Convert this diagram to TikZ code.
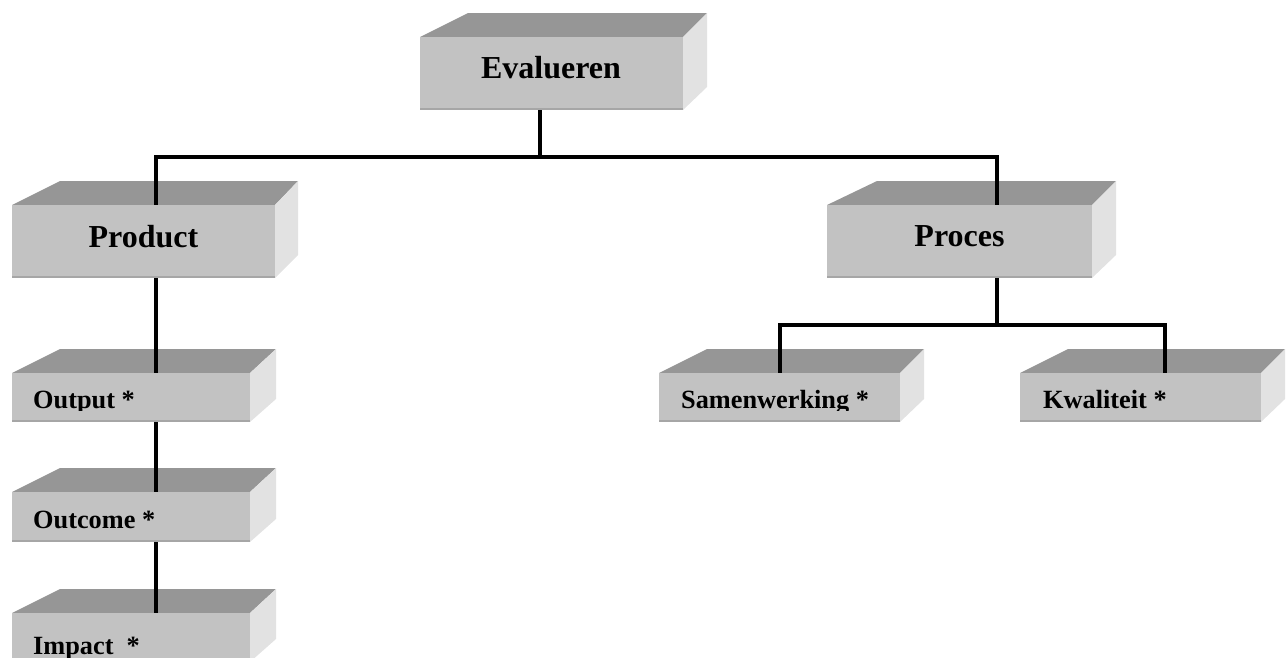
\documentclass[tikz,border=0pt]{standalone}
\usepackage{fontspec}
\setmainfont{Liberation Serif}
\usetikzlibrary{calc}
\definecolor{frontgray}{HTML}{C2C2C2}
\definecolor{topgray}{HTML}{969696}
\definecolor{sidegray}{HTML}{E2E2E2}
\definecolor{edgegray}{HTML}{A6A6A6}
\tikzset{
  frontface/.style={fill=frontgray, draw=none, inner sep=0pt, outer sep=0pt, rectangle},
  topface/.style={fill=topgray},
  sideface/.style={fill=sidegray},
  bottomedge/.style={draw=edgegray, line width=2pt},
  connector/.style={line width=3.8pt, black},
  biglabel/.style={font=\bfseries\fontsize{32}{36}\selectfont, inner sep=0pt, anchor=base},
  smalllabel/.style={font=\bfseries\fontsize{26.3}{30}\selectfont, inner sep=0pt, anchor=base west},
}
% #1 name, #2 front-left x, #3 front-right x, #4 front-top y, #5 front-bottom y, #6 back-left x, #7 back-right x
\newcommand\mybox[7]{%
  \fill[topface] (#2,#4) -- (#6,#4-24) -- (#7,#4-24) -- (#3,#4) -- cycle;
  \fill[sideface] (#3,#4) -- (#7,#4-24) -- (#7,#5-23) -- (#3,#5) -- cycle;
  \node[frontface, minimum width={#3-#2}, minimum height={#5-#4}] (#1) at ({(#2+#3)/2},{(#4+#5)/2}) {};
  \draw[bottomedge] (#2,#5-1) -- (#3,#5-1);
}
\begin{document}
\begin{tikzpicture}[x=1pt, y=-1pt]
\useasboundingbox (0,0) rectangle (1287,657);

% boxes
\mybox{eval}{420}{683}{37}{110}{468}{707}
\mybox{product}{12}{275}{205}{278}{60}{298}
\mybox{proces}{827}{1092}{205}{278}{877}{1116}
\mybox{output}{12}{250}{373}{422}{60}{276}
\mybox{outcome}{12}{250}{492}{542}{60}{276}
\mybox{impact}{12}{250}{613}{662}{60}{276}
\mybox{samen}{659}{900}{373}{422}{707}{924}
\mybox{kwal}{1020}{1261}{373}{422}{1068}{1285}

% labels
\node[biglabel] (tEval) at (551,78) {Evalueren};
\node[biglabel] (tProduct) at (143.5,247) {Product};
\node[biglabel] (tProces) at (959.5,246) {Proces};
\begin{scope}
  \clip (0,373) rectangle (1287,410);
  \node[smalllabel] (tOutput) at (33,408) {Output *};
  \node[smalllabel] (tSamen) at (681,408) {Samenwerking *};
  \node[smalllabel] (tKwal) at (1043,408) {Kwaliteit *};
\end{scope}
\node[smalllabel] (tOutcome) at (33,528) {Outcome *};
\begin{scope}
  \clip (0,613) rectangle (1287,657);
  \node[smalllabel] (tImpact) at (33,654) {Impact\ \ *};
\end{scope}

% junction points
\coordinate (j0) at (540,157);
\coordinate (jl) at (156,157);
\coordinate (jr) at (997,157);
\coordinate (p0) at (997,325);
\coordinate (pl) at (780,325);
\coordinate (pr) at (1165,325);
\coordinate (cl) at (156,0);

% connectors
\draw[connector] (eval.south -| j0) -- (j0);
\draw[connector, line cap=rect] (jl) -- (jr);
\draw[connector] (jl) -- (product.north -| jl);
\draw[connector] (jr) -- (proces.north -| jr);
\draw[connector] (product.south -| cl) -- (output.north -| cl);
\draw[connector] (output.south -| cl) -- (outcome.north -| cl);
\draw[connector] (outcome.south -| cl) -- (impact.north -| cl);
\draw[connector] (proces.south -| p0) -- (p0);
\draw[connector, line cap=rect] (pl) -- (pr);
\draw[connector] (pl) -- (samen.north -| pl);
\draw[connector] (pr) -- (kwal.north -| pr);
\end{tikzpicture}
\end{document}
